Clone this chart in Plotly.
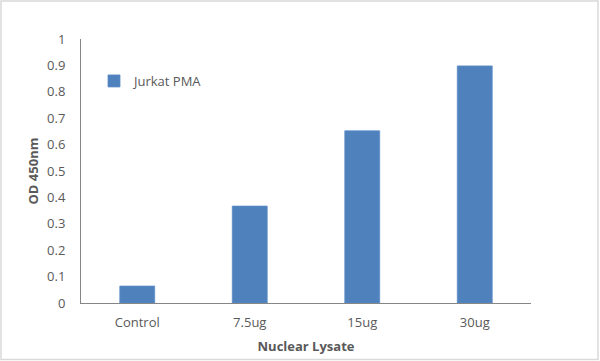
import plotly.graph_objects as go

categories = ["Control", "7.5ug", "15ug", "30ug"]
values = [0.064, 0.367, 0.652, 0.898]
series_name = "Jurkat PMA"
y_ticks = [0, 0.1, 0.2, 0.3, 0.4, 0.5, 0.6, 0.7, 0.8, 0.9, 1]
y_tick_labels = ["0", "0.1", "0.2", "0.3", "0.4", "0.5", "0.6", "0.7", "0.8", "0.9", "1"]

W, H = 600, 361
ml, mr, mt, mb = 81, 69, 39, 58
pw, ph = W - ml - mr, H - mt - mb

fig = go.Figure()
fig.add_trace(go.Bar(
    x=categories, y=values, name=series_name,
    marker=dict(color="#4F81BD", line=dict(color="#5A8BC8", width=0.8)),
    showlegend=True,
))

font = dict(family="Open Sans, Liberation Sans, sans-serif", size=13, color="#595959")
title_font = dict(family="Open Sans, Liberation Sans, sans-serif", size=13, color="#595959")

fig.update_layout(
    width=W, height=H,
    margin=dict(l=ml, r=mr, t=mt, b=mb, autoexpand=False),
    paper_bgcolor="white", plot_bgcolor="white",
    font=font,
    bargap=0.69,
    showlegend=True,
    legend=dict(
        x=(94 - ml) / pw, y=(H - mb - 81) / ph,
        xanchor="left", yanchor="middle",
        bgcolor="rgba(0,0,0,0)", font=font,
    ),
    xaxis=dict(
        showline=True, linecolor="#868686", linewidth=1,
        showgrid=False, ticks="", zeroline=False, automargin=False,
        tickfont=font, ticklabelstandoff=7,
        title=dict(text="<b>Nuclear Lysate</b>", font=title_font, standoff=12),
    ),
    yaxis=dict(
        range=[0, 1], tickvals=y_ticks, ticktext=y_tick_labels,
        showline=True, linecolor="#868686", linewidth=1,
        showgrid=False, ticks="", zeroline=False, automargin=False,
        tickfont=font, ticklabelstandoff=12,
        title=dict(text="<b>OD 450nm</b>", font=title_font, standoff=5),
    ),
    shapes=[dict(
        type="rect", xref="paper", yref="paper",
        x0=(1 - ml) / pw, x1=(598 - ml) / pw,
        y0=(H - mb - 359.5) / ph, y1=(H - mb - 1) / ph,
        line=dict(color="#D9D9D9", width=1.5), fillcolor="rgba(0,0,0,0)", layer="below",
    )],
)

fig.write_html(
    "out.html",
    config={"displayModeBar": False},
    post_script="document.body.style.margin='0';document.body.style.overflow='hidden';",
)
